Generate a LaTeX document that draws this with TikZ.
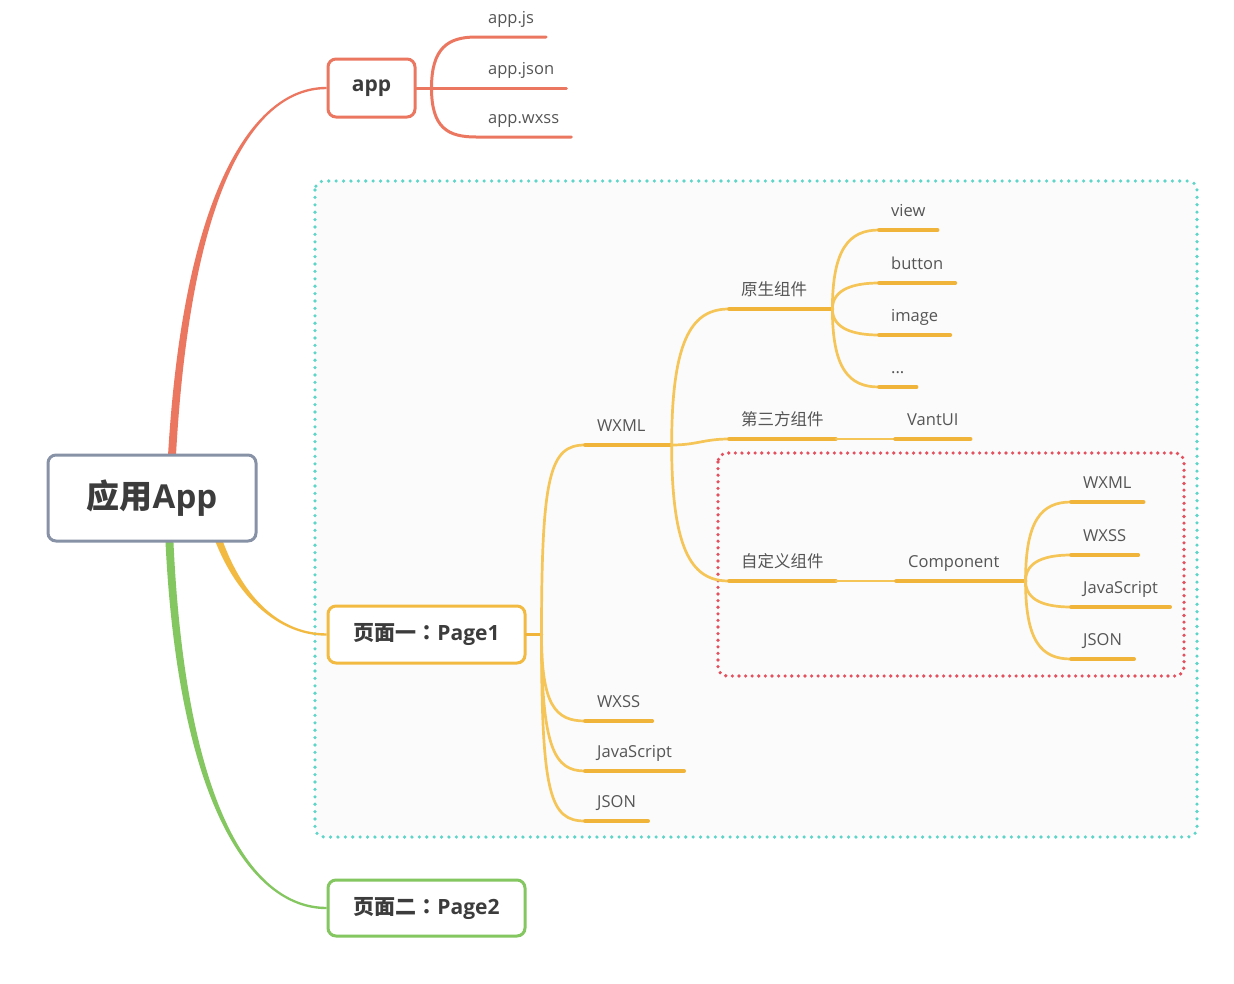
\documentclass[tikz,border=0pt]{standalone}
\usepackage{fontspec}
\setmainfont{Open Sans}
\newfontfamily\cjk{Noto Sans CJK SC}
\newfontfamily\cjkjp{Noto Sans CJK JP}
\usetikzlibrary{calc,backgrounds}

\definecolor{mred}{HTML}{EC7760}
\definecolor{morange}{HTML}{F3BA42}
\definecolor{ocurvec}{HTML}{F5C557}
\definecolor{olinec}{HTML}{F1B43A}
\definecolor{mgreen}{HTML}{84C65F}
\definecolor{rootc}{HTML}{8892A6}
\definecolor{boxtext}{HTML}{3C3C3C}
\definecolor{leaftext}{HTML}{555555}
\definecolor{cyanframe}{HTML}{5FD5C9}
\definecolor{redframe}{HTML}{E4505E}
\definecolor{framefill}{HTML}{FBFBFB}

% tapered main branch: colour, start, control 1, control 2, end, end offset
\newcommand{\limb}[6]{%
  \fill[#1] ($(#2)+(-4,0)$) .. controls ($(#3)+(-4,0)$) and ($(#4)+(#6)$) .. ($(#5)+(#6)$)
    -- ($(#5)-(#6)$) .. controls ($(#4)-(#6)$) and ($(#3)+(4,0)$) .. ($(#2)+(4,0)$) -- cycle;}

\begin{document}
\begin{tikzpicture}[x=1pt,y=-1pt,
    box/.style={draw, line width=3pt, rounded corners=8pt, fill=white, text=boxtext,
      font=\bfseries\fontsize{21}{24}\selectfont, inner sep=0pt},
    leaf/.style={anchor=south west, inner xsep=12pt, inner ysep=0pt, text height=12pt,
      text depth=13pt, text=leaftext, font=\fontsize{16.5}{18}\selectfont},
    rline/.style={draw=mred, line width=3pt, line cap=round},
    oline/.style={draw=olinec, line width=3.6pt, line cap=round},
    ocurve/.style={draw=ocurvec, line width=2.7pt, line cap=round},
    dotframe/.style={line width=3.6pt, line cap=round, rounded corners=9pt}]
  \useasboundingbox (0,0) rectangle (1234,983);

  % main boxes
  \node[box, draw=rootc, minimum width=208pt, minimum height=86pt,
    font=\bfseries\fontsize{33}{36}\selectfont] (root) at (152,498) {{\cjk 应用}App};
  \node[box, draw=mred, minimum width=87pt, minimum height=58pt] (app) at (371.5,88) {app};
  \node[box, draw=morange, minimum width=197pt, minimum height=57pt] (page1) at (426.5,634.5) {{\cjk 页面一}{\cjkjp ：}Page1};
  \node[box, draw=mgreen, minimum width=197pt, minimum height=56pt] (page2) at (426.5,908) {{\cjk 页面二}{\cjkjp ：}Page2};

  \begin{scope}[on background layer]
    \fill[white] (0,0) rectangle (1234,983);
    \draw[dotframe, dash pattern=on 0pt off 7.4pt, draw=cyanframe, fill=framefill] (315,181) rectangle (1197,837);
    \draw[dotframe, dash pattern=on 0pt off 6.6pt, draw=redframe] (718,453) rectangle (1184,676);
    \limb{mred}{170,500}{180,200}{250,88}{app.west}{0,-1.2}
    \limb{morange}{208,505}{228,590}{275,634.5}{page1.west}{0,1.2}
    \limb{mgreen}{168,500}{175,800}{250,908}{page2.west}{0,1.2}
  \end{scope}

  % app
  \coordinate (apphub) at ([xshift=15pt]app.east);
  \node[leaf] (appjs) at (476,37) {app.js};
  \node[leaf] (appjson) at (476,88) {app.json};
  \node[leaf] (appwxss) at (476,137) {app.wxss};
  \draw[rline] (app.east) -- (apphub);
  \draw[rline] (apphub) .. controls +(0,-40) and +(-28,0) .. (appjs.south west) -- (appjs.south east);
  \draw[rline] (apphub) -- (appjson.south west) -- (appjson.south east);
  \draw[rline] (apphub) .. controls +(0,40) and +(-28,0) .. (appwxss.south west) -- (appwxss.south east);

  % page 1
  \coordinate (p1hub) at ([xshift=15pt]page1.east);
  \node[leaf] (wxml) at (585,445) {WXML};
  \node[leaf] (wxss) at (585,721) {WXSS};
  \node[leaf] (js) at (585,771) {JavaScript};
  \node[leaf] (json) at (585,821) {JSON};
  \draw[oline] (page1.east) -- (p1hub);
  \draw[ocurve] (p1hub) .. controls +(0,-160) and +(-35,0) .. (wxml.south west);
  \draw[ocurve] (p1hub) .. controls +(0,70) and +(-30,0) .. (wxss.south west);
  \draw[ocurve] (p1hub) .. controls +(0,115) and +(-30,0) .. (js.south west);
  \draw[ocurve] (p1hub) .. controls +(0,160) and +(-35,0) .. (json.south west);
  \coordinate (wxmlhub) at ([xshift=14pt]wxml.south east);
  \draw[oline] (wxml.south west) -- (wxmlhub);
  \draw[oline] (wxss.south west) -- (wxss.south east);
  \draw[oline] (js.south west) -- (js.south east);
  \draw[oline] (json.south west) -- (json.south east);

  % WXML
  \node[leaf] (native) at (729,309) {\cjk 原生组件};
  \node[leaf] (third) at (729,439) {\cjk 第三方组件};
  \node[leaf] (custom) at (729,581) {\cjk 自定义组件};
  \node[leaf] (vant) at (895,439) {VantUI};
  \node[leaf] (comp) at (896,581) {Component};
  \draw[ocurve] (wxmlhub) .. controls +(0,-110) and +(-35,0) .. (native.south west);
  \draw[ocurve] (wxmlhub) .. controls +(25,0) and +(-25,0) .. (third.south west);
  \draw[ocurve] (wxmlhub) .. controls +(0,110) and +(-35,0) .. (custom.south west);
  \coordinate (nativehub) at ([xshift=13pt]native.south east);
  \draw[oline] (native.south west) -- (nativehub);
  \draw[oline] (third.south west) -- (third.south east);
  \draw[oline] (custom.south west) -- (custom.south east);
  \draw[ocurve] (third.south east) -- (vant.south west);
  \draw[ocurve] (custom.south east) -- (comp.south west);
  \draw[oline] (vant.south west) -- (vant.south east);
  \coordinate (comphub) at ([xshift=14pt]comp.south east);
  \draw[oline] (comp.south west) -- (comphub);

  % native components
  \node[leaf] (view) at (879,230) {view};
  \node[leaf] (button) at (879,283) {button};
  \node[leaf] (image) at (879,335) {image};
  \node[leaf] (more) at (879,387) {...};
  \draw[ocurve] (nativehub) .. controls +(0,-60) and +(-30,0) .. (view.south west);
  \draw[ocurve] (nativehub) .. controls +(0,-20) and +(-25,0) .. (button.south west);
  \draw[ocurve] (nativehub) .. controls +(0,20) and +(-25,0) .. (image.south west);
  \draw[ocurve] (nativehub) .. controls +(0,60) and +(-30,0) .. (more.south west);
  \draw[oline] (view.south west) -- (view.south east);
  \draw[oline] (button.south west) -- (button.south east);
  \draw[oline] (image.south west) -- (image.south east);
  \draw[oline] (more.south west) -- (more.south east);

  % component
  \node[leaf] (cwxml) at (1071,502) {WXML};
  \node[leaf] (cwxss) at (1071,555) {WXSS};
  \node[leaf] (cjs) at (1071,607) {JavaScript};
  \node[leaf] (cjson) at (1071,659) {JSON};
  \draw[ocurve] (comphub) .. controls +(0,-60) and +(-30,0) .. (cwxml.south west);
  \draw[ocurve] (comphub) .. controls +(0,-20) and +(-25,0) .. (cwxss.south west);
  \draw[ocurve] (comphub) .. controls +(0,20) and +(-25,0) .. (cjs.south west);
  \draw[ocurve] (comphub) .. controls +(0,60) and +(-30,0) .. (cjson.south west);
  \draw[oline] (cwxml.south west) -- (cwxml.south east);
  \draw[oline] (cwxss.south west) -- (cwxss.south east);
  \draw[oline] (cjs.south west) -- (cjs.south east);
  \draw[oline] (cjson.south west) -- (cjson.south east);
\end{tikzpicture}
\end{document}
